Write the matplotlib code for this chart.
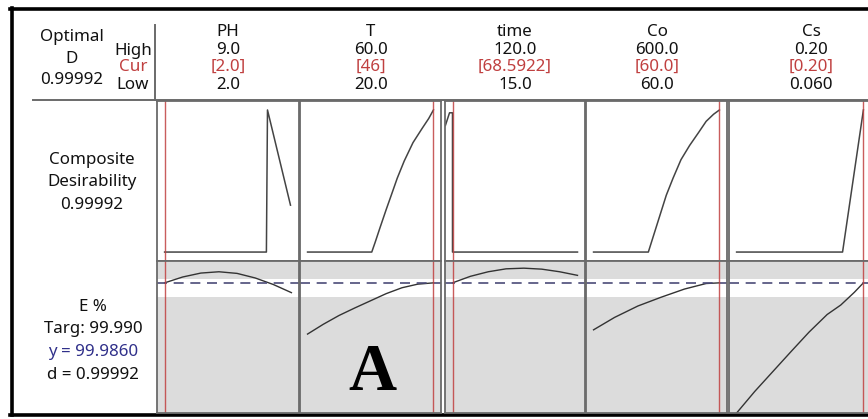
import matplotlib.pyplot as plt

plt.rcParams['font.family'] = ['Noto Sans', 'DejaVu Sans']

W, H = 868, 419

# factor header
factors = ['PH', 'T', 'time', 'Co', 'Cs']
high_labels = ['9.0', '60.0', '120.0', '600.0', '0.20']
cur_labels = ['[2.0]', '[46]', '[68.5922]', '[60.0]', '[0.20]']
low_labels = ['2.0', '20.0', '15.0', '60.0', '0.060']
low_vals = [2.0, 20.0, 15.0, 60.0, 0.06]
high_vals = [9.0, 60.0, 120.0, 600.0, 0.20]
# where the red cursor line sits in each panel
cursor_vals = [2.0, 60.0, 15.0, 600.0, 0.20]

# composite desirability traces
d_x = [
    [2.0, 7.62, 7.68, 8.95],
    [20, 40.4, 41.5, 43.0, 45.0, 46.6, 48.5, 50.7, 53.5, 56.4, 58.5, 60.0],
    [9.0, 12.5, 15.0, 15.0, 120.0],
    [60, 295, 320, 345, 372, 401, 435, 472, 510, 543, 575, 600],
    [0.06, 0.177, 0.20],
]
d_y = [
    [0, 0, 1.0, 0.33],
    [0, 0, 0.07, 0.17, 0.30, 0.40, 0.52, 0.64, 0.77, 0.87, 0.94, 1.0],
    [0.89, 0.98, 0.98, 0.0, 0.0],
    [0, 0, 0.13, 0.26, 0.40, 0.52, 0.65, 0.75, 0.84, 0.92, 0.97, 1.0],
    [0, 0, 1.0],
]

# E % response traces
e_x = [
    [2, 3, 4, 5, 6, 7, 8, 9],
    [20, 25, 30, 35, 40, 45, 50, 55, 60],
    [15, 30, 45, 60, 75, 90, 105, 120],
    [60, 150, 250, 350, 450, 543, 600],
    [0.06, 0.08, 0.10, 0.12, 0.14, 0.16, 0.175, 0.19, 0.20],
]
e_y = [
    [99.99, 100.17, 100.29, 100.33, 100.28, 100.14, 99.94, 99.69],
    [98.42, 98.72, 98.99, 99.22, 99.44, 99.66, 99.84, 99.95, 99.99],
    [99.99, 100.19, 100.33, 100.42, 100.44, 100.41, 100.33, 100.22],
    [98.55, 98.93, 99.28, 99.55, 99.80, 99.97, 99.99],
    [96.0, 96.66, 97.27, 97.88, 98.48, 99.02, 99.31, 99.70, 99.99],
]
y_current = 99.986
band = (99.56, 100.11)

# panel layout in pixels
panel_left = [157, 300, 445, 586, 729]
panel_right = [299, 441, 585, 727, 871]
header_x = [228, 371, 515, 657, 811]
d_top, d_bot = 101, 261
e_top, e_bot = 261, 413

ink = '#111111'
grid_gray = '#6a6a6a'
red = '#c04040'
blue = '#30308a'


def fig_rect(x0, x1, y0, y1):
    return [x0 / W, 1 - y1 / H, (x1 - x0) / W, (y1 - y0) / H]


fig = plt.figure(figsize=(W / 100, H / 100), dpi=100)

bg = fig.add_axes([0, 0, 1, 1], zorder=0)
bg.set_xlim(0, W)
bg.set_ylim(H, 0)
bg.axis('off')

# outer frame and header rules
bg.plot([10, W], [9.5, 9.5], color='black', lw=2.6)
bg.plot([12, 12], [8, 415], color='black', lw=2.6)
bg.plot([10, W], [415, 415], color='black', lw=2.6)
bg.plot([33, W], [100, 100], color=grid_gray, lw=1.4)
bg.plot([155, 155], [25, 100], color=grid_gray, lw=1.4)

fs = 12.2
bg.text(72, 37, 'Optimal', ha='center', va='center', fontsize=fs, color=ink)
bg.text(72, 59, 'D', ha='center', va='center', fontsize=fs, color=ink)
bg.text(72, 80, '0.99992', ha='center', va='center', fontsize=fs, color=ink)
bg.text(133, 51, 'High', ha='center', va='center', fontsize=fs, color=ink)
bg.text(133, 67, 'Cur', ha='center', va='center', fontsize=fs, color=red)
bg.text(133, 85, 'Low', ha='center', va='center', fontsize=fs, color=ink)

bg.text(92, 160, 'Composite', ha='center', va='center', fontsize=fs, color=ink)
bg.text(92, 182, 'Desirability', ha='center', va='center', fontsize=fs, color=ink)
bg.text(92, 205, '0.99992', ha='center', va='center', fontsize=fs, color=ink)

bg.text(93, 307, 'E %', ha='center', va='center', fontsize=fs, color=ink)
bg.text(93, 329, 'Targ: 99.990', ha='center', va='center', fontsize=fs, color=ink)
bg.text(93, 352, 'y = 99.9860', ha='center', va='center', fontsize=fs, color=blue)
bg.text(93, 375, 'd = 0.99992', ha='center', va='center', fontsize=fs, color=ink)

for i, name in enumerate(factors):
    hx = header_x[i]
    bg.text(hx, 32, name, ha='center', va='center', fontsize=fs, color=ink)
    bg.text(hx, 50, high_labels[i], ha='center', va='center', fontsize=fs, color=ink)
    bg.text(hx, 67, cur_labels[i], ha='center', va='center', fontsize=fs, color=red)
    bg.text(hx, 85, low_labels[i], ha='center', va='center', fontsize=fs, color=ink)

    lo, hi = low_vals[i], high_vals[i]
    pad = 0.06 * (hi - lo)
    x0, x1 = panel_left[i], panel_right[i]

    # desirability row
    ax_d = fig.add_axes(fig_rect(x0, x1, d_top, d_bot), zorder=1)
    ax_d.plot(d_x[i], d_y[i], color='#444444', lw=1.1)
    ax_d.axvline(cursor_vals[i], color=red, lw=1.0, alpha=0.85)
    ax_d.set_xlim(lo - pad, hi + pad)
    ax_d.set_ylim(-0.063, 1.063)

    # response row
    ax_e = fig.add_axes(fig_rect(x0, x1, e_top, e_bot), zorder=1)
    ax_e.set_facecolor('#dcdcdc')
    ax_e.axhspan(band[0], band[1], color='white', lw=0)
    ax_e.plot(e_x[i], e_y[i], color='#333333', lw=1.0)
    ax_e.axhline(y_current, color='#4b4b78', lw=1.2, dashes=(6, 4))
    ax_e.axvline(cursor_vals[i], color=red, lw=1.0, alpha=0.85)
    ax_e.set_xlim(lo - pad, hi + pad)
    ax_e.set_ylim(96.0, 100.66)

    for ax in (ax_d, ax_e):
        ax.set_xticks([])
        ax.set_yticks([])
        for sp in ax.spines.values():
            sp.set_color(grid_gray)
            sp.set_linewidth(1.3)

fig.text(372 / W, 1 - 373 / H, 'A', ha='center', va='center',
         fontsize=48, fontweight='bold', family='Liberation Serif', color='black')

plt.savefig('out.png', dpi=100)
plt.close()
